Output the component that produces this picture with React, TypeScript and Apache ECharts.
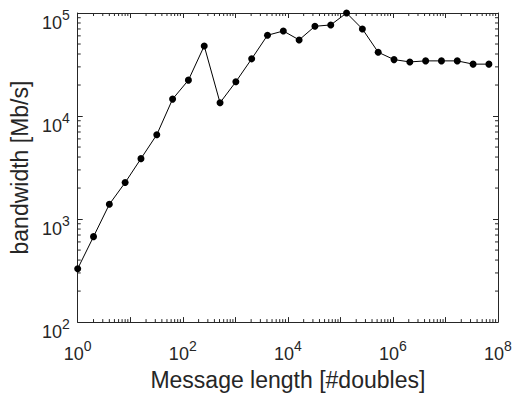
import React, { useEffect, useRef } from "react";
import * as echarts from "echarts";

const messageLength = [
  1, 2, 4, 8, 16, 32, 64, 128, 256, 512, 1024, 2048, 4096, 8192, 16384, 32768,
  65536, 131072, 262144, 524288, 1048576, 2097152, 4194304, 8388608, 16777216,
  33554432, 67108864,
];
const bandwidth = [
  330, 675, 1390, 2260, 3860, 6590, 14600, 22300, 47900, 13450, 21500, 35900,
  60800, 66900, 54800, 74300, 76600, 100000, 70000, 41600, 35300, 33500, 34300,
  34300, 34300, 31900, 31900,
];
const minorMultipliers = [2, 3, 4, 5, 6, 7, 8, 9];
const xDecades = [1, 10, 100, 1e3, 1e4, 1e5, 1e6, 1e7];
const yDecades = [100, 1e3, 1e4];

const TXT = "#262626";
const FONT = "'Liberation Sans', Arial, Helvetica, sans-serif";

export default function App() {
  const ref = useRef<HTMLDivElement>(null);
  useEffect(() => {
    if (!ref.current) return;
    const chart = echarts.init(ref.current, undefined, { renderer: "svg" });
    const xMinor: number[] = [];
    xDecades.forEach((d) => minorMultipliers.forEach((m) => xMinor.push(d * m)));
    const yMinor: number[] = [];
    yDecades.forEach((d) => minorMultipliers.forEach((m) => yMinor.push(d * m)));

    const rich = {
      b: { fontSize: 18, lineHeight: 24, verticalAlign: "bottom", color: TXT, fontFamily: FONT },
      s: { fontSize: 14, lineHeight: 14, verticalAlign: "top", color: TXT, fontFamily: FONT },
    };
    const fmt = (skipOdd: boolean) => (v: number) => {
      const e = Math.round(Math.log10(v));
      if (skipOdd && e % 2 !== 0) return "";
      return `{b|10}{s|${e}}`;
    };
    const tickStyle = { show: true, inside: true, length: 5, lineStyle: { color: TXT, width: 1 } };
    const axisLine = { show: true, lineStyle: { color: TXT, width: 1 } };

    chart.setOption({
      animation: false,
      grid: { left: 75, right: 19, top: 13, bottom: 73 },
      xAxis: [
        {
          type: "log",
          logBase: 10,
          min: 1,
          max: 1e8,
          position: "bottom",
          axisLine,
          axisTick: tickStyle,
          splitLine: { show: false },
          axisLabel: { margin: 17, formatter: fmt(true), rich, color: TXT },
          name: "Message length [#doubles]",
          nameLocation: "middle",
          nameGap: 43,
          nameTextStyle: { fontSize: 23, color: TXT, fontFamily: FONT },
        },
        {
          type: "log",
          logBase: 10,
          min: 1,
          max: 1e8,
          position: "top",
          axisLine,
          axisTick: tickStyle,
          splitLine: { show: false },
          axisLabel: { show: false },
        },
      ],
      yAxis: [
        {
          type: "log",
          logBase: 10,
          min: 100,
          max: 1e5,
          position: "left",
          axisLine,
          axisTick: tickStyle,
          splitLine: { show: false },
          axisLabel: { margin: 8, formatter: fmt(false), rich, color: TXT, padding: [14, 0, 0, 0] },
          name: "bandwidth [Mb/s]",
          nameLocation: "middle",
          nameGap: 44,
          nameTextStyle: { fontSize: 23, color: TXT, fontFamily: FONT },
        },
        {
          type: "log",
          logBase: 10,
          min: 100,
          max: 1e5,
          position: "right",
          axisLine,
          axisTick: tickStyle,
          splitLine: { show: false },
          axisLabel: { show: false },
        },
      ],
      series: [
        {
          type: "custom",
          xAxisIndex: 0,
          yAxisIndex: 0,
          silent: true,
          data: xMinor.map((v) => [v, 1000]),
          renderItem: (params: any, api: any) => {
            const x = api.coord([api.value(0), 1000])[0];
            const cs = params.coordSys;
            const st = { stroke: TXT, lineWidth: 1 };
            return {
              type: "group",
              children: [
                { type: "line", shape: { x1: x, y1: cs.y + cs.height, x2: x, y2: cs.y + cs.height - 3 }, style: st },
                { type: "line", shape: { x1: x, y1: cs.y, x2: x, y2: cs.y + 3 }, style: st },
              ],
            };
          },
        },
        {
          type: "custom",
          xAxisIndex: 0,
          yAxisIndex: 0,
          silent: true,
          data: yMinor.map((v) => [10, v]),
          renderItem: (params: any, api: any) => {
            const y = api.coord([10, api.value(1)])[1];
            const cs = params.coordSys;
            const st = { stroke: TXT, lineWidth: 1 };
            return {
              type: "group",
              children: [
                { type: "line", shape: { x1: cs.x, y1: y, x2: cs.x + 3, y2: y }, style: st },
                { type: "line", shape: { x1: cs.x + cs.width, y1: y, x2: cs.x + cs.width - 3, y2: y }, style: st },
              ],
            };
          },
        },
        {
          type: "line",
          xAxisIndex: 0,
          yAxisIndex: 0,
          data: messageLength.map((x, i) => [x, bandwidth[i]]),
          symbol: "circle",
          symbolSize: 7,
          showSymbol: true,
          lineStyle: { color: "#000", width: 1 },
          itemStyle: { color: "#000" },
          z: 5,
        },
      ],
    });
    return () => chart.dispose();
  }, []);
  return (
    <div
      ref={ref}
      style={{ position: "absolute", left: 0, top: 0, width: 517, height: 396, background: "#fff" }}
    />
  );
}
